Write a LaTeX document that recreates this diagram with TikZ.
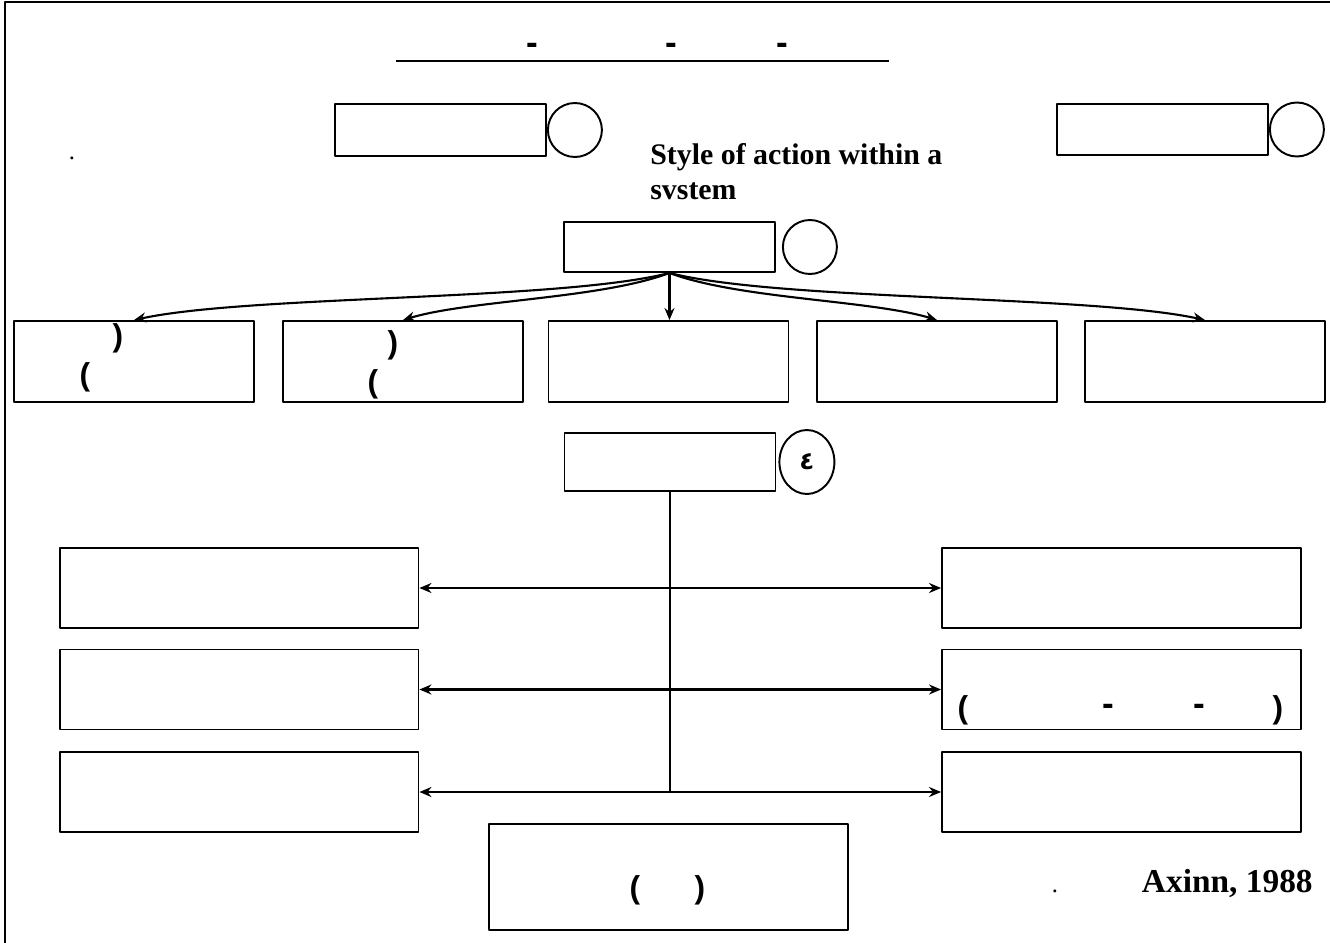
\documentclass[tikz,border=0pt]{standalone}
\usepackage{fontspec}
\setmainfont{Liberation Serif}
\newfontfamily\punctfont{Liberation Sans}
\newfontfamily\arabicfont[Script=Arabic]{DejaVu Sans}
\usetikzlibrary{shapes.geometric,arrows.meta}
\tikzset{
  box/.style={draw, rectangle, line width=1.1pt, inner sep=0pt},
  headbox/.style={box, minimum width=4.22cm, minimum height=1.05cm},
  rowbox/.style={box, minimum width=4.8cm, minimum height=1.62cm},
  sidebox/.style={box, minimum width=7.18cm, minimum height=1.6cm},
  numcirc/.style={draw, circle, line width=1.1pt, minimum size=1.08cm, inner sep=0pt},
  punct/.style={font=\punctfont\bfseries\fontsize{18}{20}\selectfont, inner sep=0pt},
  hyph/.style={font=\punctfont\bfseries\fontsize{20}{22}\selectfont, inner sep=0pt},
  link/.style={line width=1.2pt},
}
\begin{document}
\begin{tikzpicture}[x=0.02cm, y=-0.02cm, >={Stealth[length=2.4mm,width=2mm]}, line join=round]
\useasboundingbox (0,0) rectangle (1330,943);
\draw[line width=1.2pt] (5,943) -- (5,2) -- (1330,2);
% title
\draw[line width=1.2pt] (396,61) -- (889,61);
\node[hyph] (t1) at (532,49) {-};
\node[hyph] (t2) at (671,49) {-};
\node[hyph] (t3) at (782,49) {-};
% top boxes
\node[headbox, minimum height=1.04cm] (a) at (440.5,130) {};
\node[numcirc, anchor=west] (na) at (a.east) {};
\node[headbox, minimum height=1.02cm] (b) at (1162.5,129.5) {};
\node[numcirc, anchor=west] (nb) at (b.east) {};
\node[font=\fontsize{14}{16}\selectfont, inner sep=0pt] (dot1) at (72,158) {.};
\node[anchor=north west, align=left, inner sep=0pt,
  font=\bfseries\fontsize{17}{20}\selectfont] (style) at (650,143)
  {Style of action within a\\svstem};
% middle box and its five branches
\node[headbox, minimum height=1.0cm] (c) at (669.5,247) {};
\node[numcirc, anchor=west] (nc) at ([xshift=0.12cm]c.east) {};
\node[rowbox] (r1) at (134,361.5) {};
\node[rowbox] (r2) at (403,361.5) {};
\node[rowbox] (r3) at (668.5,361.5) {};
\node[rowbox] (r4) at (937,361.5) {};
\node[rowbox] (r5) at (1205,361.5) {};
\draw[link,->] (c.south) .. controls +(-110,28) and +(115,-25) .. (r1.north);
\draw[link,->] (c.south) .. controls +(-69,26) and +(66,-20) .. (r2.north);
\draw[link,->] (c.south) -- (c.south |- r3.north);
\draw[link,->] (c.south) .. controls +(69,26) and +(-66,-20) .. (r4.north);
\draw[link,->] (c.south) .. controls +(110,28) and +(-115,-25) .. (r5.north);
\node[punct] (p1a) at (118,338) {)};
\node[punct] (p1b) at (85,377) {(};
\node[punct] (p2a) at (393,345) {)};
\node[punct] (p2b) at (373,384) {(};
% lower box, trunk and the six side boxes
\node[headbox, minimum height=1.16cm] (d) at (670,462) {};
\node[draw, ellipse, line width=1.1pt, minimum width=1.1cm, minimum height=1.28cm,
  inner sep=0pt, anchor=west] (nd) at ([xshift=0.04cm]d.east)
  {\arabicfont\bfseries\fontsize{14}{16}\selectfont ٤};
\node[sidebox] (l1) at (239,588) {};
\node[sidebox] (l2) at (239,689.5) {};
\node[sidebox] (l3) at (239,792) {};
\node[sidebox] (s1) at (1121.5,588) {};
\node[sidebox] (s2) at (1121.5,689.5) {};
\node[sidebox] (s3) at (1121.5,792) {};
\draw[line width=1.7pt] (d.south) -- (d.south |- l3.east);
\draw[link,<->] (l1.east) -- (s1.west);
\draw[link,<->] (l2.east) -- (s2.west);
\draw[link,<->] (l3.east) -- (s3.west);
\node[punct] (q1) at (963,710) {(};
\node[hyph] (q2) at (1108,710) {-};
\node[hyph] (q3) at (1199,710) {-};
\node[punct] (q4) at (1278,710) {)};
% bottom box and source
\node[box, minimum width=7.18cm, minimum height=2.12cm] (e) at (668.5,877) {};
\node[punct] (e1) at (635,890) {(};
\node[punct] (e2) at (700,890) {)};
\node[font=\fontsize{14}{16}\selectfont, anchor=base, inner sep=0pt] (dot2) at (1055,892) {.};
\node[anchor=base east, inner sep=0pt, font=\bfseries\fontsize{19}{21}\selectfont]
  (src) at (1313,892) {Axinn, 1988};
\end{tikzpicture}
\end{document}
